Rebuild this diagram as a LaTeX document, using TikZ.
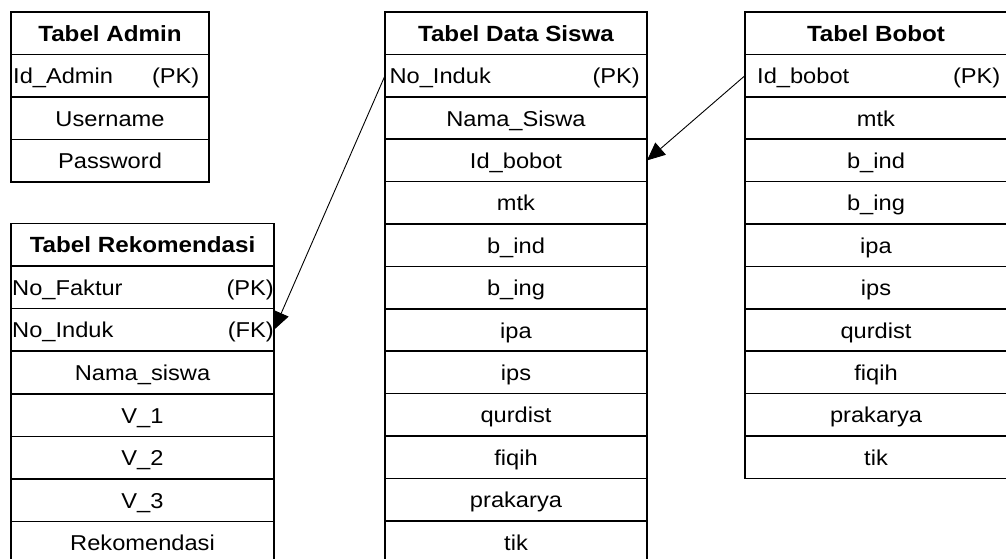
\documentclass[tikz,border=0pt]{standalone}
\usepackage{fontspec}
\setmainfont{Liberation Sans}[FakeStretch=1.1]
\usetikzlibrary{arrows.meta}
\begin{document}
\begin{tikzpicture}[x=1pt,y=-1pt,
  txt/.style={inner sep=0pt, text height=18pt, text depth=2pt,
    font=\fontsize{21.5}{26}\selectfont},
  cell/.style={txt, draw, line width=1.6pt, fill=white, anchor=north west,
    outer sep=0pt, minimum height=42.5pt},
  head/.style={cell, font=\fontsize{22}{26}\selectfont\bfseries},
  keyl/.style={txt, anchor=west},
  keyr/.style={txt, anchor=east},
  link/.style={line width=0.9pt, -{Triangle[length=18pt,width=16pt]}}
]
\useasboundingbox (0,0) rectangle (1006,558);

% Tabel Admin
\node[head, minimum width=198pt] (ad-h) at (11,12) {Tabel Admin};
\node[cell, minimum width=198pt] (ad-id) at (11,54.5) {};
\node[keyl] (ad-id-l) at ([xshift=2pt]ad-id.west) {Id\_Admin};
\node[keyr] (ad-id-r) at ([xshift=-9.5pt]ad-id.east) {(PK)};
\node[cell, minimum width=198pt] (ad-user) at (11,97) {Username};
\node[cell, minimum width=198pt] (ad-pass) at (11,139.5) {Password};

% Tabel Rekomendasi
\node[head, minimum width=263pt, minimum height=42.6pt] (ri-h) at (11,223.3) {Tabel Rekomendasi};
\node[cell, minimum width=263pt, minimum height=42.6pt] (ri-fak) at (11,265.9) {};
\node[keyl] (ri-fak-l) at ([xshift=1pt]ri-fak.west) {No\_Faktur};
\node[keyr] (ri-fak-r) at ([xshift=0pt]ri-fak.east) {(PK)};
\node[cell, minimum width=263pt, minimum height=42.6pt] (ri-no) at (11,308.5) {};
\node[keyl] (ri-no-l) at ([xshift=1pt]ri-no.west) {No\_Induk};
\node[keyr] (ri-no-r) at ([xshift=0pt]ri-no.east) {(FK)};
\foreach \n/\t [count=\i from 3] in {nama/Nama\_siswa, v1/V\_1, v2/V\_2, v3/V\_3, rek/Rekomendasi}
  \node[cell, minimum width=263pt, minimum height=42.6pt] (ri-\n) at (11,{223.3+\i*42.6}) {\t};

% Tabel Data Siswa
\node[head, minimum width=262pt, minimum height=42.4pt] (ds-h) at (385,12) {Tabel Data Siswa};
\node[cell, minimum width=262pt, minimum height=42.4pt] (ds-no) at (385,54.4) {};
\node[keyl] (ds-no-l) at ([xshift=4.4pt]ds-no.west) {No\_Induk};
\node[keyr] (ds-no-r) at ([xshift=-7pt]ds-no.east) {(PK)};
\foreach \n/\t [count=\i from 2] in {nama/Nama\_Siswa, bob/Id\_bobot, mtk/mtk, bind/b\_ind, bing/b\_ing, ipa/ipa, ips/ips, qur/qurdist, fiq/fiqih, pra/prakarya, tik/tik}
  \node[cell, minimum width=262pt, minimum height=42.4pt] (ds-\n) at (385,{12+\i*42.4}) {\t};

% Tabel Bobot
\node[head, minimum width=262pt, minimum height=42.4pt] (bo-h) at (745,12) {Tabel Bobot};
\node[cell, minimum width=262pt, minimum height=42.4pt] (bo-id) at (745,54.4) {};
\node[keyl] (bo-id-l) at ([xshift=12pt]bo-id.west) {Id\_bobot};
\node[keyr] (bo-id-r) at ([xshift=-6.5pt]bo-id.east) {(PK)};
\foreach \n/\t [count=\i from 2] in {mtk/mtk, bind/b\_ind, bing/b\_ing, ipa/ipa, ips/ips, qur/qurdist, fiq/fiqih, pra/prakarya, tik/tik}
  \node[cell, minimum width=262pt, minimum height=42.4pt] (bo-\n) at (745,{12+\i*42.4}) {\t};

% Relations
\draw[link] (ds-no.west) -- (ri-no.east);
\draw[link] (bo-id.west) -- (ds-bob.east);
\end{tikzpicture}
\end{document}
